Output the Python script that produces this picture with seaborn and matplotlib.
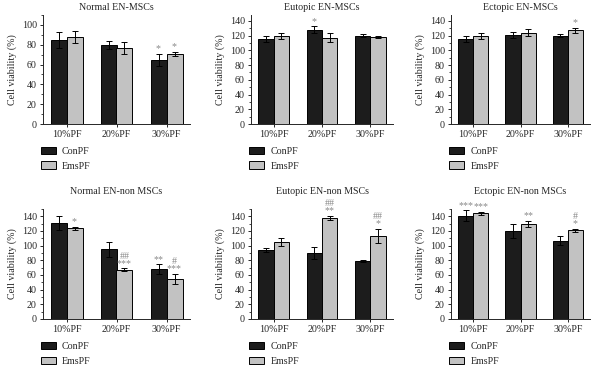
import matplotlib
matplotlib.use("Agg")
import matplotlib.pyplot as plt
from matplotlib.ticker import MultipleLocator
import seaborn as sns
import pandas as pd
import numpy as np

sns.set_style("ticks")
plt.rcParams['font.family'] = ['Liberation Serif', 'DejaVu Serif']

doses = ["10%PF", "20%PF", "30%PF"]
groups = ["ConPF", "EmsPF"]
titles = ["Normal EN-MSCs", "Eutopic EN-MSCs", "Ectopic EN-MSCs",
          "Normal EN-non MSCs", "Eutopic EN-non MSCs", "Ectopic EN-non MSCs"]

# means / errors per panel (ConPF, EmsPF)
normal_msc_con = [85, 80, 65];   normal_msc_con_err = [8, 4, 6]
normal_msc_ems = [88, 77, 71];   normal_msc_ems_err = [6, 6, 2]
eutopic_msc_con = [116, 128, 120]; eutopic_msc_con_err = [4, 5, 2]
eutopic_msc_ems = [120, 117, 118]; eutopic_msc_ems_err = [4, 6, 1]
ectopic_msc_con = [115, 121, 120]; ectopic_msc_con_err = [4, 4, 2]
ectopic_msc_ems = [120, 124, 127]; ectopic_msc_ems_err = [4, 5, 4]
normal_non_con = [131, 95, 68];  normal_non_con_err = [9, 10, 7]
normal_non_ems = [124, 67, 55];  normal_non_ems_err = [2, 2, 7]
eutopic_non_con = [94, 90, 79];  eutopic_non_con_err = [3, 8, 1]
eutopic_non_ems = [105, 138, 113]; eutopic_non_ems_err = [6, 3, 10]
ectopic_non_con = [141, 120, 107]; ectopic_non_con_err = [7, 10, 6]
ectopic_non_ems = [144, 130, 121]; ectopic_non_ems_err = [2, 4, 2]

# significance marks
normal_msc_con_sig = ["", "", "*"];   normal_msc_ems_sig = ["", "", "*"]
eutopic_msc_con_sig = ["", "*", ""];  eutopic_msc_ems_sig = ["", "", ""]
ectopic_msc_con_sig = ["", "", ""];   ectopic_msc_ems_sig = ["", "", "*"]
normal_non_con_sig = ["", "", "**"];  normal_non_ems_sig = ["*", "##\n***", "#\n***"]
eutopic_non_con_sig = ["", "", ""];   eutopic_non_ems_sig = ["", "##\n**", "##\n*"]
ectopic_non_con_sig = ["***", "", ""]; ectopic_non_ems_sig = ["***", "**", "#\n*"]

panel_data = [
    (normal_msc_con, normal_msc_con_err, normal_msc_ems, normal_msc_ems_err, normal_msc_con_sig, normal_msc_ems_sig),
    (eutopic_msc_con, eutopic_msc_con_err, eutopic_msc_ems, eutopic_msc_ems_err, eutopic_msc_con_sig, eutopic_msc_ems_sig),
    (ectopic_msc_con, ectopic_msc_con_err, ectopic_msc_ems, ectopic_msc_ems_err, ectopic_msc_con_sig, ectopic_msc_ems_sig),
    (normal_non_con, normal_non_con_err, normal_non_ems, normal_non_ems_err, normal_non_con_sig, normal_non_ems_sig),
    (eutopic_non_con, eutopic_non_con_err, eutopic_non_ems, eutopic_non_ems_err, eutopic_non_con_sig, eutopic_non_ems_sig),
    (ectopic_non_con, ectopic_non_con_err, ectopic_non_ems, ectopic_non_ems_err, ectopic_non_con_sig, ectopic_non_ems_sig),
]

W, H = 600, 370
fig = plt.figure(figsize=(6, 3.7), dpi=100)

# axes rects in pixels: (left, top, right, bottom)
rects = [(43, 15, 190, 124), (251, 15, 393, 124), (451, 15, 590, 124),
         (43, 209, 190, 319), (251, 209, 393, 319), (451, 209, 590, 319)]
ylims = [110, 148, 148, 150, 150, 150]
yticks_max = [100, 140, 140, 140, 140, 140]
title_pads = [3.5, 3.5, 3.5, 10.5, 10.5, 10.5]

dark = "#1c1c1c"
light = "#c2c2c2"
fs = 7.2

for i, (title, data, r) in enumerate(zip(titles, panel_data, rects)):
    con, con_e, ems, ems_e, con_s, ems_s = data
    l, t, rr, b = r
    ax = fig.add_axes([l / W, 1 - b / H, (rr - l) / W, (b - t) / H])
    df = pd.DataFrame({
        "dose": doses * 2,
        "group": [groups[0]] * 3 + [groups[1]] * 3,
        "value": con + ems,
    })
    sns.barplot(data=df, x="dose", y="value", hue="group", order=doses,
                hue_order=groups, palette=[dark, light], edgecolor="black",
                linewidth=0.7, width=0.64, errorbar=None, ax=ax)
    for cont, means, errs, sigs in zip(ax.containers, [con, ems], [con_e, ems_e], [con_s, ems_s]):
        xs = [p.get_x() + p.get_width() / 2 for p in cont.patches]
        ax.errorbar(xs, means, yerr=errs, fmt="none", ecolor="black",
                    elinewidth=0.7, capsize=2.2, capthick=0.7)
        for x, m, e, s in zip(xs, means, errs, sigs):
            if s:
                ax.text(x, m + e + 0.5, s, ha="center", va="bottom",
                        fontsize=fs, color="#8a8a8a", linespacing=0.75)
    ax.set_xlim(-0.47, 2.47)
    ax.set_ylim(0, ylims[i])
    ax.set_yticks(np.arange(0, yticks_max[i] + 1, 20))
    ax.yaxis.set_minor_locator(MultipleLocator(10))
    ax.set_xlabel("")
    ax.set_ylabel("Cell viability (%)", fontsize=fs, labelpad=3)
    ax.set_title(title, fontsize=fs, pad=title_pads[i])
    ax.tick_params(axis="both", which="major", labelsize=fs, length=2.5, width=0.7, pad=2)
    ax.tick_params(axis="y", which="minor", length=1.5, width=0.6, left=True)
    for sp in ["top", "right"]:
        ax.spines[sp].set_visible(False)
    for sp in ["left", "bottom"]:
        ax.spines[sp].set_linewidth(0.7)
    handles, labels = ax.get_legend_handles_labels()
    ax.legend(handles, labels, loc="upper left", bbox_to_anchor=(-0.04, -0.17),
              frameon=False, fontsize=fs, handlelength=1.5, handleheight=0.8,
              labelspacing=0.55, handletextpad=0.6, borderaxespad=0)

fig.savefig("out.png", dpi=100)
